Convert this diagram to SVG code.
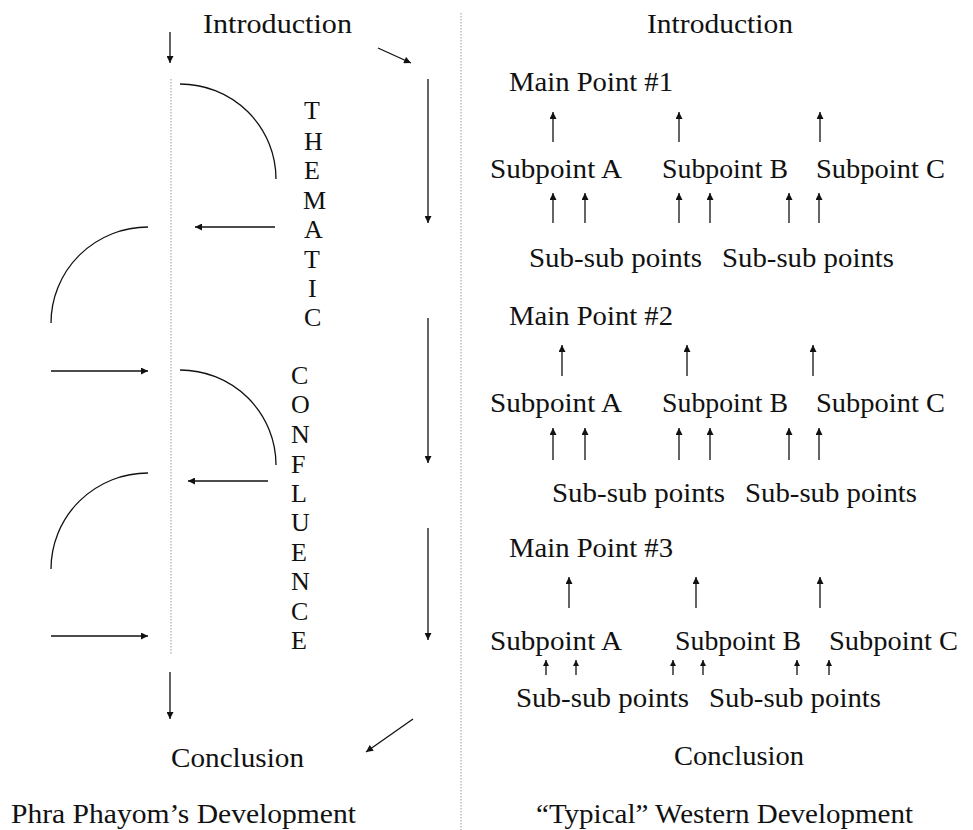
<svg xmlns="http://www.w3.org/2000/svg" width="973" height="830" viewBox="0 0 973 830">
<style>
text{font-family:"Liberation Serif","Times New Roman",serif;font-size:27px;fill:#111}
.c{text-anchor:middle}
.l{font-size:26px}
.ln{stroke:#111;stroke-width:1.3;fill:none}
.dot{stroke:#9a9a9a;stroke-width:1;stroke-dasharray:1.5,1.5;fill:none}
</style>
<defs>
<marker id="ah" viewBox="0 0 10 10" refX="10" refY="5" markerWidth="8" markerHeight="7" markerUnits="userSpaceOnUse" orient="auto"><path d="M0,0 L10,5 L0,10 z" fill="#111"/></marker>
<marker id="as" viewBox="0 0 10 10" refX="10" refY="5" markerWidth="6.5" markerHeight="6" markerUnits="userSpaceOnUse" orient="auto"><path d="M0,0 L10,5 L0,10 z" fill="#111"/></marker>
</defs>
<g id="dividers">
<line class="dot" x1="461" y1="13" x2="461" y2="830"/>
<line class="dot" x1="171" y1="79" x2="171" y2="654"/>
</g>
<g id="left-intro"><text x="277.5" y="33" class="c" textLength="149" lengthAdjust="spacingAndGlyphs">Introduction</text></g>
<g id="left-conclusion"><text x="237.5" y="767" class="c" textLength="133" lengthAdjust="spacingAndGlyphs">Conclusion</text></g>
<g id="left-title"><text x="183.5" y="823" class="c" textLength="345" lengthAdjust="spacingAndGlyphs">Phra Phayom’s Development</text></g>
<g id="thematic">
<text x="304" y="119" class="l">T</text>
<text x="304" y="149.5" class="l">H</text>
<text x="304" y="179" class="l">E</text>
<text x="303" y="208.5" class="l">M</text>
<text x="304" y="238" class="l">A</text>
<text x="304" y="267.5" class="l">T</text>
<text x="308" y="297" class="l">I</text>
<text x="304" y="325.5" class="l">C</text>
</g>
<g id="confluence">
<text x="291" y="384" class="l">C</text>
<text x="291" y="413" class="l">O</text>
<text x="291" y="443" class="l">N</text>
<text x="291" y="472.5" class="l">F</text>
<text x="291" y="502" class="l">L</text>
<text x="291" y="530.5" class="l">U</text>
<text x="291" y="560.5" class="l">E</text>
<text x="291" y="590" class="l">N</text>
<text x="291" y="619.5" class="l">C</text>
<text x="291" y="649" class="l">E</text>
</g>
<g id="right-intro"><text x="720" y="33" class="c" textLength="146" lengthAdjust="spacingAndGlyphs">Introduction</text></g>
<g id="mp1">
<text x="509" y="91" textLength="164" lengthAdjust="spacingAndGlyphs">Main Point #1</text>
<text x="490" y="178" textLength="132" lengthAdjust="spacingAndGlyphs">Subpoint A</text>
<text x="662" y="178" textLength="126" lengthAdjust="spacingAndGlyphs">Subpoint B</text>
<text x="816" y="178" textLength="129" lengthAdjust="spacingAndGlyphs">Subpoint C</text>
<text x="529" y="267" textLength="173" lengthAdjust="spacingAndGlyphs">Sub-sub points</text>
<text x="722" y="267" textLength="172" lengthAdjust="spacingAndGlyphs">Sub-sub points</text>
</g>
<g id="mp2">
<text x="509" y="325" textLength="164" lengthAdjust="spacingAndGlyphs">Main Point #2</text>
<text x="490" y="412" textLength="132" lengthAdjust="spacingAndGlyphs">Subpoint A</text>
<text x="662" y="412" textLength="126" lengthAdjust="spacingAndGlyphs">Subpoint B</text>
<text x="816" y="412" textLength="129" lengthAdjust="spacingAndGlyphs">Subpoint C</text>
<text x="552" y="502" textLength="173" lengthAdjust="spacingAndGlyphs">Sub-sub points</text>
<text x="745" y="502" textLength="172" lengthAdjust="spacingAndGlyphs">Sub-sub points</text>
</g>
<g id="mp3">
<text x="509" y="557" textLength="164" lengthAdjust="spacingAndGlyphs">Main Point #3</text>
<text x="490" y="650" textLength="132" lengthAdjust="spacingAndGlyphs">Subpoint A</text>
<text x="675" y="650" textLength="126" lengthAdjust="spacingAndGlyphs">Subpoint B</text>
<text x="829" y="650" textLength="129" lengthAdjust="spacingAndGlyphs">Subpoint C</text>
<text x="516" y="707" textLength="173" lengthAdjust="spacingAndGlyphs">Sub-sub points</text>
<text x="709" y="707" textLength="172" lengthAdjust="spacingAndGlyphs">Sub-sub points</text>
</g>
<g id="right-conclusion"><text x="739" y="765" class="c" textLength="130" lengthAdjust="spacingAndGlyphs">Conclusion</text></g>
<g id="right-title"><text x="724.5" y="823" class="c" textLength="377" lengthAdjust="spacingAndGlyphs">“Typical” Western Development</text></g>
<g id="connectors">
<line class="ln" x1="170" y1="32" x2="170" y2="63" marker-end="url(#ah)"/>
<line class="ln" x1="378" y1="48" x2="411" y2="63" marker-end="url(#ah)"/>
<path class="ln" d="M180,84 A96,95 0 0 1 276,179"/>
<line class="ln" x1="275" y1="227" x2="195" y2="227" marker-end="url(#ah)"/>
<path class="ln" d="M148,227 A97,96 0 0 0 51,323"/>
<line class="ln" x1="51" y1="371" x2="148" y2="371" marker-end="url(#ah)"/>
<path class="ln" d="M180,370 A96,95 0 0 1 276,465"/>
<line class="ln" x1="268" y1="481" x2="188" y2="481" marker-end="url(#ah)"/>
<path class="ln" d="M148,473 A97,96 0 0 0 51,569"/>
<line class="ln" x1="51" y1="636" x2="148" y2="636" marker-end="url(#ah)"/>
<line class="ln" x1="170" y1="672" x2="170" y2="719" marker-end="url(#ah)"/>
<line class="ln" x1="413" y1="719" x2="366" y2="752" marker-end="url(#ah)"/>
<line class="ln" x1="428" y1="79" x2="428" y2="223" marker-end="url(#ah)"/>
<line class="ln" x1="428" y1="318" x2="428" y2="463" marker-end="url(#ah)"/>
<line class="ln" x1="428" y1="528" x2="428" y2="640" marker-end="url(#ah)"/>
<line class="ln" x1="553" y1="142" x2="553" y2="112" marker-end="url(#ah)"/>
<line class="ln" x1="679" y1="142" x2="679" y2="112" marker-end="url(#ah)"/>
<line class="ln" x1="820" y1="142" x2="820" y2="112" marker-end="url(#ah)"/>
<line class="ln" x1="553" y1="223" x2="553" y2="193" marker-end="url(#ah)"/>
<line class="ln" x1="585" y1="223" x2="585" y2="193" marker-end="url(#ah)"/>
<line class="ln" x1="679" y1="223" x2="679" y2="193" marker-end="url(#ah)"/>
<line class="ln" x1="710" y1="223" x2="710" y2="193" marker-end="url(#ah)"/>
<line class="ln" x1="789" y1="223" x2="789" y2="193" marker-end="url(#ah)"/>
<line class="ln" x1="819" y1="223" x2="819" y2="193" marker-end="url(#ah)"/>
<line class="ln" x1="562" y1="376" x2="562" y2="345" marker-end="url(#ah)"/>
<line class="ln" x1="687" y1="376" x2="687" y2="345" marker-end="url(#ah)"/>
<line class="ln" x1="813" y1="376" x2="813" y2="345" marker-end="url(#ah)"/>
<line class="ln" x1="553" y1="460" x2="553" y2="428" marker-end="url(#ah)"/>
<line class="ln" x1="585" y1="460" x2="585" y2="428" marker-end="url(#ah)"/>
<line class="ln" x1="679" y1="460" x2="679" y2="428" marker-end="url(#ah)"/>
<line class="ln" x1="710" y1="460" x2="710" y2="428" marker-end="url(#ah)"/>
<line class="ln" x1="789" y1="460" x2="789" y2="428" marker-end="url(#ah)"/>
<line class="ln" x1="819" y1="460" x2="819" y2="428" marker-end="url(#ah)"/>
<line class="ln" x1="569" y1="608" x2="569" y2="577" marker-end="url(#ah)"/>
<line class="ln" x1="696" y1="608" x2="696" y2="577" marker-end="url(#ah)"/>
<line class="ln" x1="820" y1="608" x2="820" y2="577" marker-end="url(#ah)"/>
<line class="ln" x1="546" y1="675" x2="546" y2="660" marker-end="url(#as)"/>
<line class="ln" x1="576" y1="675" x2="576" y2="660" marker-end="url(#as)"/>
<line class="ln" x1="673" y1="675" x2="673" y2="660" marker-end="url(#as)"/>
<line class="ln" x1="703" y1="675" x2="703" y2="660" marker-end="url(#as)"/>
<line class="ln" x1="797" y1="675" x2="797" y2="660" marker-end="url(#as)"/>
<line class="ln" x1="829" y1="675" x2="829" y2="660" marker-end="url(#as)"/>
</g>
</svg>
